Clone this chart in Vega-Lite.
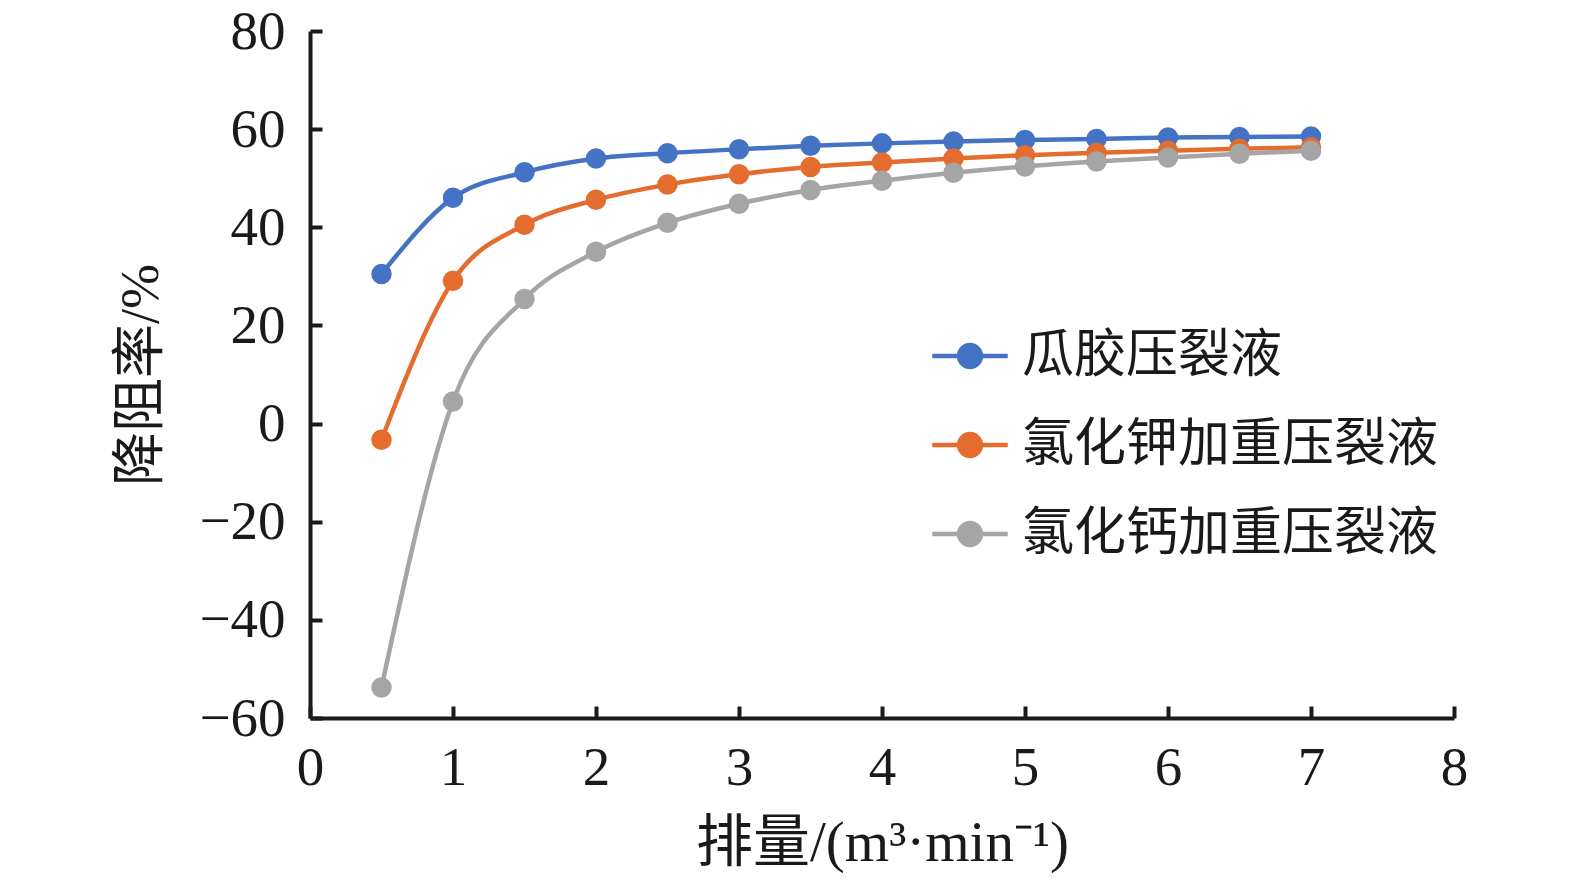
{
  "$schema": "https://vega.github.io/schema/vega-lite/v6.json",
  "width": 1144,
  "height": 687,
  "autosize": {"type": "none"},
  "padding": {"left": 310, "top": 31, "right": 100, "bottom": 162},
  "background": "white",
  "data": {
    "values": [
      {"q": 0.5, "r": 30.5, "s": "瓜胶压裂液"},
      {"q": 1.0, "r": 46.0, "s": "瓜胶压裂液"},
      {"q": 1.5, "r": 51.2, "s": "瓜胶压裂液"},
      {"q": 2.0, "r": 54.0, "s": "瓜胶压裂液"},
      {"q": 2.5, "r": 55.1, "s": "瓜胶压裂液"},
      {"q": 3.0, "r": 55.9, "s": "瓜胶压裂液"},
      {"q": 3.5, "r": 56.6, "s": "瓜胶压裂液"},
      {"q": 4.0, "r": 57.1, "s": "瓜胶压裂液"},
      {"q": 4.5, "r": 57.5, "s": "瓜胶压裂液"},
      {"q": 5.0, "r": 57.8, "s": "瓜胶压裂液"},
      {"q": 5.5, "r": 58.0, "s": "瓜胶压裂液"},
      {"q": 6.0, "r": 58.3, "s": "瓜胶压裂液"},
      {"q": 6.5, "r": 58.4, "s": "瓜胶压裂液"},
      {"q": 7.0, "r": 58.5, "s": "瓜胶压裂液"},
      {"q": 0.5, "r": -3.3, "s": "氯化钾加重压裂液"},
      {"q": 1.0, "r": 29.1, "s": "氯化钾加重压裂液"},
      {"q": 1.5, "r": 40.5, "s": "氯化钾加重压裂液"},
      {"q": 2.0, "r": 45.6, "s": "氯化钾加重压裂液"},
      {"q": 2.5, "r": 48.7, "s": "氯化钾加重压裂液"},
      {"q": 3.0, "r": 50.8, "s": "氯化钾加重压裂液"},
      {"q": 3.5, "r": 52.3, "s": "氯化钾加重压裂液"},
      {"q": 4.0, "r": 53.2, "s": "氯化钾加重压裂液"},
      {"q": 4.5, "r": 54.0, "s": "氯化钾加重压裂液"},
      {"q": 5.0, "r": 54.7, "s": "氯化钾加重压裂液"},
      {"q": 5.5, "r": 55.2, "s": "氯化钾加重压裂液"},
      {"q": 6.0, "r": 55.6, "s": "氯化钾加重压裂液"},
      {"q": 6.5, "r": 56.0, "s": "氯化钾加重压裂液"},
      {"q": 7.0, "r": 56.3, "s": "氯化钾加重压裂液"},
      {"q": 0.5, "r": -53.8, "s": "氯化钙加重压裂液"},
      {"q": 1.0, "r": 4.5, "s": "氯化钙加重压裂液"},
      {"q": 1.5, "r": 25.4, "s": "氯化钙加重压裂液"},
      {"q": 2.0, "r": 35.0, "s": "氯化钙加重压裂液"},
      {"q": 2.5, "r": 40.9, "s": "氯化钙加重压裂液"},
      {"q": 3.0, "r": 44.8, "s": "氯化钙加重压裂液"},
      {"q": 3.5, "r": 47.6, "s": "氯化钙加重压裂液"},
      {"q": 4.0, "r": 49.5, "s": "氯化钙加重压裂液"},
      {"q": 4.5, "r": 51.1, "s": "氯化钙加重压裂液"},
      {"q": 5.0, "r": 52.4, "s": "氯化钙加重压裂液"},
      {"q": 5.5, "r": 53.4, "s": "氯化钙加重压裂液"},
      {"q": 6.0, "r": 54.2, "s": "氯化钙加重压裂液"},
      {"q": 6.5, "r": 55.0, "s": "氯化钙加重压裂液"},
      {"q": 7.0, "r": 55.6, "s": "氯化钙加重压裂液"}
    ]
  },
  "encoding": {
    "x": {
      "field": "q", "type": "quantitative",
      "scale": {"domain": [0, 8], "nice": false, "zero": false},
      "axis": {"title": "排量/(m³·min⁻¹)", "values": [0, 1, 2, 3, 4, 5, 6, 7, 8], "titlePadding": 20, "titleFontSize": 57}
    },
    "y": {
      "field": "r", "type": "quantitative",
      "scale": {"domain": [-60, 80], "nice": false, "zero": false},
      "axis": {"title": "降阻率/%", "values": [-60, -40, -20, 0, 20, 40, 60, 80], "titlePadding": 30}
    },
    "color": {
      "field": "s", "type": "nominal",
      "scale": {
        "domain": ["瓜胶压裂液", "氯化钾加重压裂液", "氯化钙加重压裂液"],
        "range": ["#4472C4", "#E46C2F", "#A5A5A5"]
      },
      "legend": {
        "title": null,
        "orient": "none",
        "legendX": 620,
        "legendY": 285,
        "symbolType": "M -1 0 L 1 0 M 0.29 0 A 0.29 0.29 0 1 1 -0.29 0 A 0.29 0.29 0 1 1 0.29 0 Z",
        "symbolSize": 5700,
        "symbolStrokeWidth": 4.5,
        "symbolFillColor": null,
        "labelFontSize": 52,
        "labelFont": "Liberation Serif, Noto Sans CJK SC",
        "labelColor": "#1a1a1a",
        "labelOffset": 12,
        "rowPadding": 23,
        "labelLimit": 700
      }
    }
  },
  "layer": [
    {"mark": {"type": "line", "interpolate": "monotone", "strokeWidth": 4.5}},
    {"mark": {"type": "point", "filled": true, "size": 420, "opacity": 1}}
  ],
  "config": {
    "view": {"stroke": null},
    "font": "Liberation Serif, Noto Sans CJK SC",
    "axis": {
      "grid": false,
      "domainColor": "#1a1a1a",
      "domainWidth": 4,
      "tickColor": "#1a1a1a",
      "tickWidth": 4,
      "tickSize": -12,
      "labelFont": "Liberation Serif",
      "labelFontSize": 55,
      "labelColor": "#1a1a1a",
      "titleFont": "Liberation Serif, Noto Sans CJK SC",
      "titleFontSize": 54,
      "titleFontWeight": "normal",
      "titleColor": "#1a1a1a"
    },
    "axisX": {"labelPadding": 35, "labelFlush": false},
    "axisY": {"labelPadding": 37}
  }
}
